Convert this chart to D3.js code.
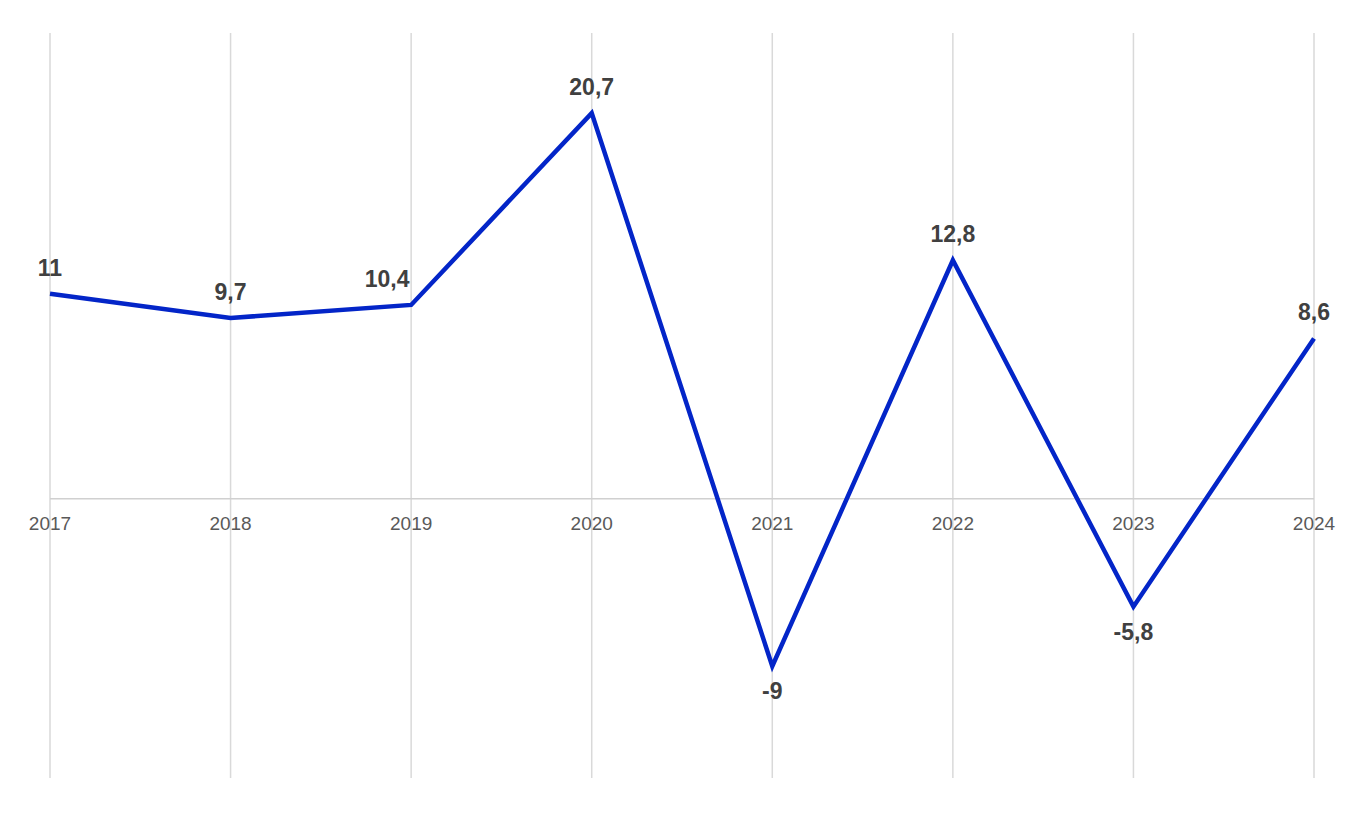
<!DOCTYPE html>
<html><head><meta charset="utf-8">
<script src="https://cdn.jsdelivr.net/npm/d3@7"></script>
<style>body{margin:0;background:#fff;}svg{display:block;font-family:"Liberation Sans",Arial,sans-serif;}</style>
</head><body>
<svg id="c" width="1367" height="818"></svg>
<script>
const years = ["2017","2018","2019","2020","2021","2022","2023","2024"];
const values = [11, 9.7, 10.4, 20.7, -9, 12.8, -5.8, 8.6];
const labels = ["11","9,7","10,4","20,7","-9","12,8","-5,8","8,6"];

const svg = d3.select("#c");
const x = d3.scalePoint().domain(years).range([50, 1314]);
const y = d3.scaleLinear().domain([-15, 25]).range([778, 33]);

// vertical grid
svg.append("g").selectAll("line").data(years).join("line")
  .attr("x1", d => x(d)).attr("x2", d => x(d))
  .attr("y1", y(25)).attr("y2", y(-15))
  .attr("stroke", "#d9d9d9").attr("stroke-width", 1.5);

// zero baseline
svg.append("line").attr("x1", x(years[0])).attr("x2", x(years[years.length-1]))
  .attr("y1", y(0)).attr("y2", y(0)).attr("stroke", "#d0d0d0").attr("stroke-width", 1.5);

// x axis labels
svg.append("g").selectAll("text").data(years).join("text")
  .attr("x", d => x(d)).attr("y", y(0) + 31)
  .attr("text-anchor", "middle").attr("font-size", 19).attr("fill", "#595959")
  .text(d => d);

// line
const line = d3.line().x((d, i) => x(years[i])).y(d => y(d));
svg.append("path").datum(values).attr("d", line)
  .attr("fill", "none").attr("stroke", "#0325c8").attr("stroke-width", 4.5)
  .attr("stroke-linejoin", "miter");

// value labels
svg.append("g").selectAll("text").data(values).join("text")
  .attr("x", (d, i) => x(years[i]) + (i === 2 ? -24 : 0))
  .attr("y", d => d >= 0 ? y(d) - 18 : y(d) + 33)
  .attr("text-anchor", "middle").attr("font-size", 23).attr("font-weight", "bold")
  .attr("fill", "#404040")
  .text((d, i) => labels[i]);
</script>
</body></html>
